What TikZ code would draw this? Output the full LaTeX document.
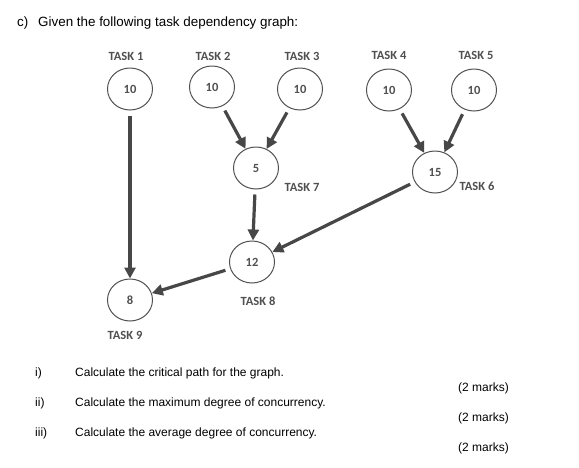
\documentclass[tikz,border=0pt]{standalone}
\usepackage{fontspec}
\setmainfont{Liberation Sans}
\newfontfamily\lbl{Carlito}
\usetikzlibrary{arrows.meta,shapes.geometric}
\definecolor{arrowgray}{HTML}{474747}
\definecolor{labelgray}{HTML}{505050}
\tikzset{
  task/.style={ellipse,draw=labelgray,line width=1pt,minimum width=45pt,minimum height=42pt,inner sep=0pt,font=\lbl\bfseries\fontsize{12.5}{14}\selectfont,text=labelgray},
  tlabel/.style={font=\lbl\bfseries\fontsize{12.5}{14}\selectfont,text=labelgray,inner sep=0pt},
  dep/.style={draw=arrowgray,line width=3.2pt,-{Triangle[length=11pt,width=11pt]},shorten <=5pt,shorten >=0pt},
  qtext/.style={font=\fontsize{12}{14}\selectfont,anchor=base west,inner sep=0pt},
}
\begin{document}
\begin{tikzpicture}[x=1pt,y=-1pt]
\useasboundingbox (0,0) rectangle (579,467);
\fill[white] (0,0) rectangle (579,467);
% header
\node[qtext,font=\fontsize{13.4}{15}\selectfont] (hc) at (17,26) {c)};
\node[qtext,font=\fontsize{13.4}{15}\selectfont] (hg) at (38,26) {Given the following task dependency graph:};
% tasks
\node[task] (t1) at (130,89) {10};
\node[task] (t2) at (212,87) {10};
\node[task] (t3) at (300,89) {10};
\node[task] (t4) at (389,90) {10};
\node[task] (t5) at (474,90) {10};
\node[task] (t7) at (256,168) {5};
\node[task] (t6) at (435,172) {15};
\node[task] (t8) at (252,262) {12};
\node[task] (t9) at (130,300) {8};
% labels
\node[tlabel] (l1) at (126,56) {TASK 1};
\node[tlabel] (l2) at (213,56) {TASK 2};
\node[tlabel] (l3) at (302,56) {TASK 3};
\node[tlabel] (l4) at (389,55) {TASK 4};
\node[tlabel] (l5) at (476,55) {TASK 5};
\node[tlabel] (l7) at (302,187) {TASK 7};
\node[tlabel] (l6) at (477,186) {TASK 6};
\node[tlabel] (l8) at (258,301) {TASK 8};
\node[tlabel] (l9) at (125,335) {TASK 9};
% arrows
\draw[dep] (t1) -- (t9);
\draw[dep] (t2) -- (t7);
\draw[dep] (t3) -- (t7);
\draw[dep] (t4) -- (t6);
\draw[dep] (t5) -- (t6);
\draw[dep] (t7) -- (t8);
\draw[dep] (t6) -- (t8);
\draw[dep] (t8) -- (t9);
% questions
\node[qtext] (n1) at (35,376) {i)};
\node[qtext] (q1) at (75,376) {Calculate the critical path for the graph.};
\node[qtext,anchor=base east] (m1) at (509,391) {(2 marks)};
\node[qtext] (n2) at (35,406) {ii)};
\node[qtext] (q2) at (75,406) {Calculate the maximum degree of concurrency.};
\node[qtext,anchor=base east] (m2) at (509,421) {(2 marks)};
\node[qtext] (n3) at (35,436) {iii)};
\node[qtext] (q3) at (75,436) {Calculate the average degree of concurrency.};
\node[qtext,anchor=base east] (m3) at (509,451) {(2 marks)};
\end{tikzpicture}
\end{document}
